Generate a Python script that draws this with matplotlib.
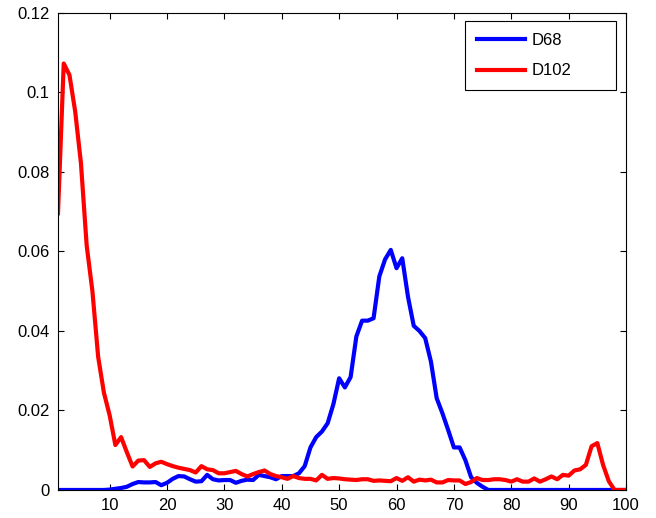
import matplotlib
matplotlib.use("Agg")
import matplotlib.pyplot as plt
from matplotlib.ticker import FormatStrFormatter

plt.rcParams['font.family'] = ['Liberation Sans', 'DejaVu Sans']

x = list(range(1, 101))

d68 = [0, 0, 0, 0, 0, 0, 0, 0, 0, 0.0001,
       0.0003, 0.0005, 0.0008, 0.0015, 0.002, 0.0019, 0.0019, 0.002, 0.0012, 0.0018,
       0.0028, 0.0035, 0.0034, 0.0027, 0.0021, 0.0022, 0.0038, 0.0027, 0.0024, 0.0025,
       0.0025, 0.0018, 0.0023, 0.0026, 0.0025, 0.0038, 0.0035, 0.0032, 0.0027, 0.0035,
       0.0035, 0.0035, 0.0042, 0.006, 0.0107, 0.0133, 0.0147, 0.0168, 0.0216, 0.0281,
       0.0258, 0.0284, 0.0386, 0.0426, 0.0426, 0.0432, 0.0537, 0.058, 0.0604, 0.0558,
       0.0583, 0.0486, 0.0413, 0.04, 0.0382, 0.0323, 0.0231, 0.0193, 0.0151, 0.0107,
       0.0107, 0.0075, 0.0032, 0.0018, 0.0008, 0, 0, 0, 0, 0,
       0, 0, 0, 0, 0, 0, 0, 0, 0, 0,
       0, 0, 0, 0, 0, 0, 0, 0, 0, 0]

d102 = [0.0696, 0.1073, 0.1044, 0.0952, 0.0822, 0.0615, 0.050, 0.0335, 0.0245, 0.0188,
        0.0113, 0.0133, 0.0095, 0.0059, 0.0074, 0.0075, 0.0058, 0.0067, 0.0071, 0.0065,
        0.006, 0.0056, 0.0053, 0.005, 0.0044, 0.006, 0.0052, 0.005, 0.0042, 0.0042,
        0.0045, 0.0048, 0.004, 0.0034, 0.004, 0.0045, 0.0049, 0.004, 0.0035, 0.0032,
        0.0028, 0.0035, 0.003, 0.0028, 0.0028, 0.0024, 0.0038, 0.0028, 0.003, 0.0029,
        0.0027, 0.0026, 0.0025, 0.0027, 0.0027, 0.0023, 0.0024, 0.0023, 0.0022, 0.003,
        0.0023, 0.0032, 0.0021, 0.0026, 0.0024, 0.0026, 0.0019, 0.0019, 0.0025, 0.0024,
        0.0024, 0.0015, 0.002, 0.003, 0.0025, 0.0025, 0.0027, 0.0027, 0.0025, 0.0021,
        0.0027, 0.0021, 0.0021, 0.0029, 0.0021, 0.0027, 0.0034, 0.0027, 0.0038, 0.0036,
        0.0049, 0.0052, 0.0063, 0.011, 0.0118, 0.0063, 0.0022, 0, 0, 0]

xticks = [10, 20, 30, 40, 50, 60, 70, 80, 90, 100]
yticks = [0, 0.02, 0.04, 0.06, 0.08, 0.1, 0.12]

fig = plt.figure(figsize=(6.56, 5.18), dpi=100)
ax = fig.add_axes([0.0884, 0.0541, 0.8659, 0.9208])

ax.plot(x, d68, color=(0, 0, 1), lw=3, label='D68')
ax.plot(x, d102, color=(1, 0, 0), lw=3, label='D102')

ax.set_xlim(1, 100)
ax.set_ylim(0, 0.12)
ax.set_xticks(xticks)
ax.set_yticks(yticks)
ax.yaxis.set_major_formatter(FormatStrFormatter('%g'))
ax.tick_params(direction='in', length=4, width=0.8, top=True, right=True,
               labelsize=12, pad=6)
for s in ax.spines.values():
    s.set_linewidth(0.8)

# wide MATLAB-style legend box with empty space on the right
leg = ax.legend(loc='upper right', bbox_to_anchor=(0.7165, 0.8407, 0.2658, 0.1426),
                mode='expand', borderaxespad=0, fontsize=12,
                fancybox=False, edgecolor='black', framealpha=1,
                handlelength=2.9, handletextpad=0.4, borderpad=0.7,
                labelspacing=0.95)
leg.get_frame().set_linewidth(0.8)

fig.savefig('out.png', dpi=100)
